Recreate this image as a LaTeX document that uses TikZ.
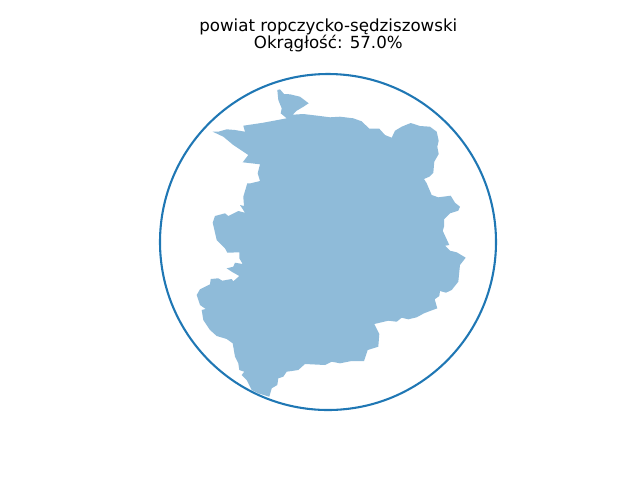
\documentclass[tikz,border=0pt]{standalone}
\usepackage{fontspec}
\setmainfont{DejaVu Sans}
\definecolor{plotblue}{HTML}{1F77B4}
\tikzset{
    region/.style={fill=plotblue, fill opacity=0.5, draw=none},
    outercircle/.style={draw=plotblue, line width=1.56pt},
    plottitle/.style={align=center, font=\fontsize{12.5}{13.2}\selectfont, inner sep=0pt}
}
\begin{document}
\begin{tikzpicture}[x=0.75pt, y=-0.75pt]
    \useasboundingbox (0,0) rectangle (640,480); % Same frame as the figure

    % County outline
    \fill[region] (277.3,90) -- (280,89.3) -- (284,94) -- (290,94.3) -- (300,96.7) -- (308.7,103.3) -- (303,107)
        -- (296.7,110.7) -- (292.7,114.7) -- (303.3,114) -- (320,116) -- (330,117.3) -- (340,116.7) -- (353.3,118.3)
        -- (361.7,121.3) -- (369.3,128.7) -- (379.3,128.7) -- (385,135) -- (391.7,137.7) -- (395,130.7) -- (401.7,126.7)
        -- (410.7,123) -- (420,126) -- (430,126.7) -- (436.7,131.7) -- (438.7,140.7) -- (437.3,146.7) -- (438.7,154)
        -- (434.3,161.7) -- (433.3,172.7) -- (429.3,176.7) -- (424,179) -- (426.7,183.3) -- (431.7,195) -- (438.3,197.3)
        -- (450.7,195.7) -- (455,202.7) -- (460,206.7) -- (458.3,210.7) -- (450,213.3) -- (444,219.3) -- (444,226.7)
        -- (442.7,230.7) -- (449.3,245) -- (445,245.7) -- (450,250.7) -- (456.7,252.3) -- (465.7,257.7) -- (460,265)
        -- (458.3,281.7) -- (451.7,290) -- (446,292.7) -- (440,291) -- (439.3,296) -- (434.7,299.3) -- (437.3,308.3)
        -- (430,311) -- (424,313.3) -- (416.7,317.3) -- (408.3,319.3) -- (401.7,317.7) -- (396.7,321.7) -- (388.3,320.7)
        -- (374.3,324) -- (379.3,334) -- (378.3,346.7) -- (367.7,350) -- (364,361) -- (351.7,361) -- (340,363.3)
        -- (331.7,361.7) -- (325,365) -- (305,364) -- (298.3,370) -- (291.7,371) -- (286.7,371.7) -- (283.3,376.7)
        -- (278.3,378.3) -- (277.3,385) -- (271.7,388.3) -- (269.3,396.7) -- (258.3,393.3) -- (251.7,390) -- (246.7,380)
        -- (241.7,375) -- (244.3,371.7) -- (239.3,370) -- (238.3,363.3) -- (235,356.7) -- (232.7,343.3) -- (226.7,339)
        -- (216.7,336) -- (210,330) -- (203.3,320) -- (201.7,310) -- (205.7,309) -- (200,305) -- (196.7,295) -- (200,289.3)
        -- (210,284.3) -- (210.7,279) -- (218.3,278.3) -- (222.3,280.7) -- (231.7,279) -- (233.3,281.3) -- (239.3,276)
        -- (231.7,271.7) -- (226.7,268.3) -- (233.3,266.7) -- (235,262.7) -- (242.7,264) -- (239.3,258.3) -- (239.3,252.3)
        -- (227.3,252.7) -- (225,248.3) -- (216.7,240) -- (212.7,222.7) -- (215,216) -- (225,213.3) -- (228.3,216)
        -- (238.3,211) -- (245,212.7) -- (240,205) -- (244,206) -- (243.3,196.7) -- (247.3,183.3) -- (250.7,183.3)
        -- (260,181) -- (257.7,173.3) -- (260,164.3) -- (242.7,162.3) -- (248.3,155) -- (233.3,145) -- (223.3,136.7)
        -- (212.7,131.7) -- (218.3,131.7) -- (226.7,129.3) -- (235,130) -- (245,131.7) -- (243.3,125.7) -- (263.3,122.7)
        -- (286.7,118.3) -- (280.7,113.3) -- (281.7,108.3) -- (278.3,100) -- cycle;

    % Enclosing circle
    \draw[outercircle] (328,242) circle [radius=168];

    \node[plottitle] (title) at (328.3,35.5) {powiat ropczycko-sędziszowski\\Okrągłość: 57.0\%};
\end{tikzpicture}
\end{document}
